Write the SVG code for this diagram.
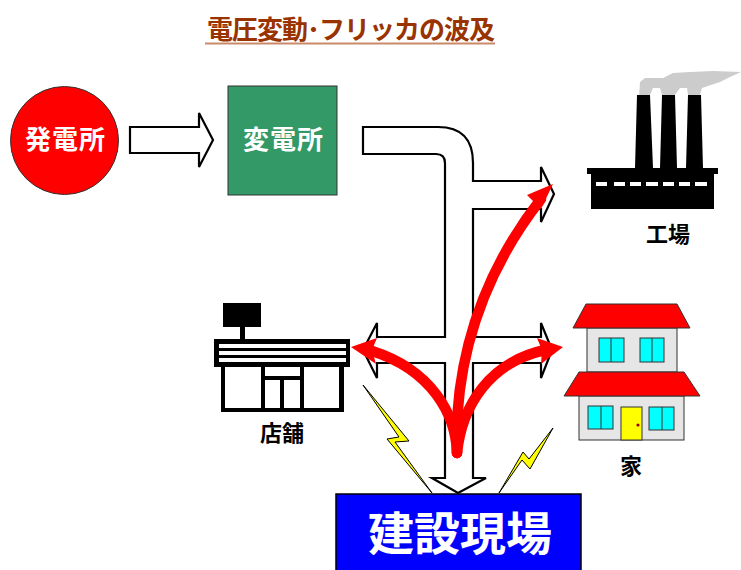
<svg xmlns="http://www.w3.org/2000/svg" width="741" height="570" viewBox="0 0 741 570">
<style>
text{font-family:"Noto Sans CJK JP","Noto Sans CJK SC",sans-serif;font-weight:700;text-anchor:middle}
.w{fill:#fff}.k{fill:#000}
.pipe{fill:#fff;stroke:#000;stroke-width:2.2;stroke-linejoin:miter}
.bolt{fill:#ff0;stroke:#000;stroke-width:1}
.red{fill:none;stroke:#f00;stroke-width:10.500;stroke-linecap:round}
.win{fill:#0ff;stroke:#333;stroke-width:1}
.roof{fill:#f00;stroke:#333;stroke-width:1}
.wall{fill:#e6e6e6;stroke:#333;stroke-width:1}
.st{fill:#fff;stroke:none}
</style>
<rect width="741" height="570" fill="#fff"/>
<g id="title"><text x="351" y="39" font-size="26" textLength="288" lengthAdjust="spacing" fill="#993300">電圧変動･フリッカの波及</text><rect x="205" y="42.500" width="290" height="2" fill="#c98a6a"/></g>
<g id="plant"><circle cx="64.500" cy="140.500" r="54" fill="#f00" stroke="#333" stroke-width="1"/><text x="65" y="149" font-size="26" class="w" textLength="80">発電所</text></g>
<g id="substation"><rect x="228" y="86" width="109" height="109" fill="#339966" stroke="#333" stroke-width="1"/><text x="283" y="149" font-size="26" class="w" textLength="80">変電所</text></g>
<g id="connectors">
<path class="pipe" d="M130 127H199V113L213 140L199 167V153H130Z"/>
<path class="pipe" d="M363 127H438Q473 127 473 163V181H541V167L554 194L541 222V209H473V337H541V323L552 350L541 378V363H473V478H486L458 493L432 478H445V363H377V378L363 350L377 323V337H445V163Q445 154 436 154H363Z"/>
<path class="bolt" d="M363 385L409 441L395 442L432 493L387 439L399 437Z"/>
<path class="bolt" d="M553 428L530 469L522 460L499 493L523 452L529 459Z"/>
<path class="red" d="M457 453C456 415 432 370 372 351"/>
<path class="red" d="M457 453C462 405 490 362 545 350"/>
<path class="red" d="M457 453C455 400 462 300 541 199"/>
<path fill="#f00" d="M351 347L377 338L372 350L376 364Z"/>
<path fill="#f00" d="M563 347L537 338L542 350L541 364Z"/>
<path fill="#f00" d="M553 184L527 195L535 203L541 209Z"/>
</g>
<g id="factory">
<path fill="#ccc" d="M639 97L640 82L645 78L663 78L673 73L690 72L713 71L741 72L730 77L720 82L702 88L700 95H688L687 88L680 88L675 95H662L660 88L653 88L650 95Z"/>
<path class="k" d="M637 95H650L653 168H635ZM662 95H675L677 168H660ZM688 95H701L703 168H686Z"/>
<rect x="587" y="168" width="131" height="6" class="k"/><rect x="591" y="174" width="123" height="35" class="k"/>
<path class="w" d="M596 182h11v4h-11zM614 182h11v4h-11zM630 182h11v4h-11zM646 182h12v4h-12zM663 182h11v4h-11zM679 182h11v4h-11zM695 182h12v4h-12z"/>
<text x="668" y="242" font-size="22">工場</text>
</g>
<g id="store">
<rect x="223" y="303" width="38" height="24" class="k"/><rect x="240" y="327" width="5" height="12" class="k"/>
<rect x="214" y="339" width="136" height="28" class="k"/>
<rect x="219" y="344" width="127" height="4" class="st"/><rect x="219" y="351" width="127" height="4" class="st"/><rect x="219" y="358" width="127" height="4" class="st"/>
<rect x="221" y="367" width="123" height="45" class="k"/>
<rect x="225" y="367" width="36" height="41" class="st"/><rect x="304" y="367" width="35" height="41" class="st"/><rect x="265" y="367" width="35" height="9" class="st"/><rect x="265" y="380" width="15" height="28" class="st"/><rect x="284" y="380" width="16" height="28" class="st"/>
<text x="282" y="441" font-size="22">店舗</text>
</g>
<g id="house">
<rect x="587" y="328" width="90" height="44" class="wall"/>
<path class="roof" d="M586 304H677L690 328H573Z"/>
<rect x="599" y="338" width="25" height="24" class="win"/><path d="M611 338V362" stroke="#333"/>
<rect x="640" y="338" width="24" height="24" class="win"/><path d="M652 338V362" stroke="#333"/>
<rect x="579" y="396" width="105" height="44" class="wall"/>
<path class="roof" d="M579 372H684L700 396H564Z"/>
<rect x="588" y="406" width="25" height="23" class="win"/><path d="M601 406V429" stroke="#333"/>
<rect x="649" y="407" width="25" height="23" class="win"/><path d="M662 407V430" stroke="#333"/>
<rect x="621" y="407" width="21" height="33" fill="#ff0" stroke="#333"/><circle cx="638" cy="425" r="1.600" fill="#900"/>
<text x="631" y="474" font-size="22">家</text>
</g>
<g id="site"><rect x="336" y="494" width="245" height="78" fill="#00f" stroke="#000" stroke-width="1.500"/><text x="460" y="550" font-size="46" class="w">建設現場</text></g>
</svg>
